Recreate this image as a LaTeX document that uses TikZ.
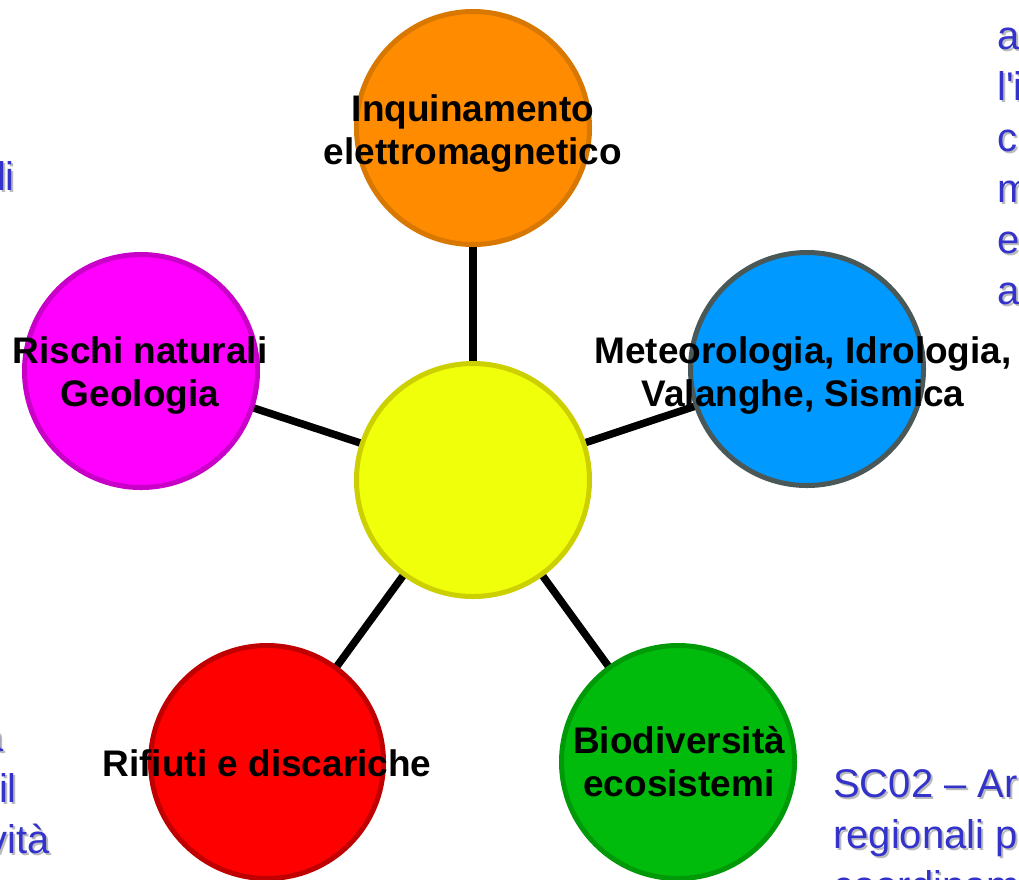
\documentclass[tikz,border=0pt]{standalone}
\usepackage{fontspec}
\setmainfont{Liberation Sans}
\usetikzlibrary{backgrounds}
\definecolor{orgfill}{HTML}{FF8C00}
\definecolor{orgline}{HTML}{D87800}
\definecolor{magfill}{HTML}{FF00FF}
\definecolor{magline}{HTML}{C800C8}
\definecolor{yelfill}{HTML}{F0FF0A}
\definecolor{yelline}{HTML}{CCD000}
\definecolor{blufill}{HTML}{0099FF}
\definecolor{bluline}{HTML}{4A5858}
\definecolor{redfill}{HTML}{FF0000}
\definecolor{redline}{HTML}{C00000}
\definecolor{grnfill}{HTML}{00BB0C}
\definecolor{grnline}{HTML}{009A08}
\definecolor{slideblue}{HTML}{3333CC}
\definecolor{shadowgray}{HTML}{BBBBBB}
\tikzset{
  topic/.style={circle, draw, line width=5pt, minimum size=233pt, inner sep=0pt},
  lbl/.style={font=\fontsize{37}{43}\selectfont\bfseries, align=center, inner sep=0pt, text=black},
  link/.style={line width=7.5pt, draw=black},
  btxt/.style={font=\fontsize{40}{51}\selectfont, text=slideblue, inner sep=0pt, align=left},
  bshadow/.style={btxt, text=shadowgray, xshift=2pt, yshift=-2pt},
}
\newcommand\slidetext[4]{%
  \node[bshadow, anchor=#2] at #3 {#4};
  \node[btxt, anchor=#2] (#1) at #3 {#4};}
\begin{document}
\begin{tikzpicture}[x=1pt, y=-1pt]
\useasboundingbox (0,0) rectangle (1019,879);
\clip (0,0) rectangle (1019,879);

% circles
\node[topic, fill=yelfill, draw=yelline] (core) at (473,480) {};
\node[topic, fill=orgfill, draw=orgline] (inq) at (473,128) {};
\node[topic, fill=magfill, draw=magline] (ris) at (141,371) {};
\node[topic, fill=blufill, draw=bluline] (met) at (807,369) {};
\node[topic, fill=redfill, draw=redline] (rif) at (267,762) {};
\node[topic, fill=grnfill, draw=grnline] (bio) at (678,762) {};

% connectors
\begin{scope}[on background layer]
  \draw[link] (core.center) -- (inq.center);
  \draw[link] (core.center) -- (ris.center);
  \draw[link] (core.center) -- (met.center);
  \draw[link] (core.center) -- (rif.center);
  \draw[link] (core.center) -- (bio.center);
\end{scope}

% labels
\node[lbl] (inqlbl) at (473,134) {Inquinamento\\elettromagnetico};
\node[lbl] (rislbl) at (140,376) {Rischi naturali\\Geologia};
\node[lbl] (metlbl) at (803,376) {Meteorologia, Idrologia,\\Valanghe, Sismica};
\node[lbl] (riflbl) at (267,763) {Rifiuti e discariche};
\node[lbl] (biolbl) at (679,762) {Biodiversità\\ecosistemi};

% clipped slide text
\slidetext{r1}{base west}{(997,49)}{a}
\slidetext{r2}{base west}{(997,100)}{l\textquotesingle i}
\slidetext{r3}{base west}{(997,151)}{c}
\slidetext{r4}{base west}{(997,202)}{m}
\slidetext{r5}{base west}{(997,253)}{e}
\slidetext{r6}{base west}{(997,304)}{a}
\slidetext{l1}{base east}{(15,190)}{li}
\slidetext{l2}{base east}{(4,751)}{a}
\slidetext{l3}{base east}{(17,802)}{il}
\slidetext{l4}{base east}{(50,853)}{vità}
\slidetext{b1}{base west}{(833,797)}{SC02 – Ar}
\slidetext{b2}{base west}{(833,848)}{regionali p}
\slidetext{b3}{base west}{(833,899)}{coordinam}
\end{tikzpicture}
\end{document}
